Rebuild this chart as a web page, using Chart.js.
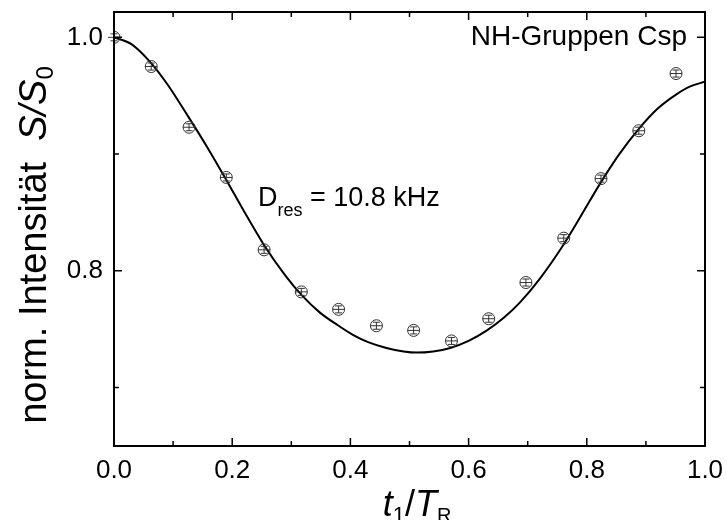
<!DOCTYPE html>
<html>
<head>
<meta charset="utf-8">
<script src="https://cdn.jsdelivr.net/npm/chart.js@4/dist/chart.umd.min.js"></script>
<style>
html,body{margin:0;padding:0;background:#fff;}
#wrap{width:727px;height:520px;}
</style>
</head>
<body>
<div id="wrap"><canvas id="c" width="727" height="520"></canvas></div>
<script>
// ---- data ----
const tValues   = [0, 0.063, 0.127, 0.190, 0.254, 0.317, 0.380, 0.444, 0.507, 0.571, 0.634, 0.697, 0.761, 0.824, 0.888, 0.951];
const intensity = [1.000, 0.975, 0.923, 0.880, 0.818, 0.782, 0.767, 0.753, 0.749, 0.740, 0.759, 0.790, 0.828, 0.879, 0.920, 0.969];
const errors    = [0.003, 0.003, 0.003, 0.003, 0.003, 0.003, 0.003, 0.003, 0.003, 0.003, 0.003, 0.003, 0.003, 0.003, 0.003, 0.003];

const fitT = [0, 0.03, 0.061, 0.09, 0.127, 0.16, 0.191, 0.22, 0.254, 0.29, 0.318, 0.349, 0.38, 0.405, 0.43, 0.461, 0.49, 0.512, 0.54, 0.569, 0.60, 0.631, 0.66, 0.687, 0.72, 0.76, 0.79, 0.824, 0.855, 0.887, 0.92, 0.951, 0.975, 1.0];
const fitS = [1.000, 0.994, 0.979, 0.960, 0.931, 0.904, 0.877, 0.851, 0.822, 0.796, 0.779, 0.764, 0.753, 0.745, 0.739, 0.734, 0.731, 0.730, 0.731, 0.734, 0.740, 0.749, 0.760, 0.773, 0.793, 0.822, 0.847, 0.876, 0.900, 0.921, 0.939, 0.951, 0.958, 0.962];

const xTickLabels = [0, 0.2, 0.4, 0.6, 0.8, 1.0];
const xMinorTicks = [0.1, 0.3, 0.5, 0.7, 0.9];
const yTickLabels = [0.8, 1.0];
const yMinorTicks = [0.7, 0.9];

const annotation = "NH-Gruppen Csp";
const fitLabel = {main: "D", sub: "res", rest: " = 10.8 kHz"};

const FONT = "'Liberation Sans', Arial, Helvetica, sans-serif";

const points = tValues.map((t, i) => ({x: t, y: intensity[i]}));
const fitPoints = fitT.map((t, i) => ({x: t, y: fitS[i]}));

const decorPlugin = {
  id: 'decor',
  afterDatasetsDraw(chart) {
    const ctx = chart.ctx;
    const xs = chart.scales.x, ys = chart.scales.y;
    ctx.save();
    ctx.strokeStyle = '#333';
    ctx.lineWidth = 1;
    points.forEach((p, i) => {
      const px = xs.getPixelForValue(p.x), py = ys.getPixelForValue(p.y);
      const top = ys.getPixelForValue(p.y + errors[i]);
      const bot = ys.getPixelForValue(p.y - errors[i]);
      ctx.beginPath();
      ctx.moveTo(px - 6, py); ctx.lineTo(px + 6, py);
      ctx.moveTo(px, top); ctx.lineTo(px, bot);
      ctx.moveTo(px - 3.5, top); ctx.lineTo(px + 3.5, top);
      ctx.moveTo(px - 3.5, bot); ctx.lineTo(px + 3.5, bot);
      ctx.stroke();
    });
    ctx.restore();
  },
  afterDraw(chart) {
    const ctx = chart.ctx;
    const a = chart.chartArea;
    const xs = chart.scales.x, ys = chart.scales.y;
    ctx.save();
    ctx.strokeStyle = '#000';
    ctx.lineWidth = 2;
    ctx.strokeRect(a.left, a.top, a.right - a.left, a.bottom - a.top);
    ctx.lineWidth = 1.5;
    ctx.beginPath();
    const tick = (vals, len) => {
      vals.forEach(v => {
        const px = xs.getPixelForValue(v);
        ctx.moveTo(px, a.bottom); ctx.lineTo(px, a.bottom - len);
        ctx.moveTo(px, a.top); ctx.lineTo(px, a.top + len);
      });
    };
    const ytick = (vals, len) => {
      vals.forEach(v => {
        const py = ys.getPixelForValue(v);
        ctx.moveTo(a.left, py); ctx.lineTo(a.left + len, py);
        ctx.moveTo(a.right, py); ctx.lineTo(a.right - len, py);
      });
    };
    tick(xTickLabels, 8); tick(xMinorTicks, 5);
    ytick(yTickLabels, 8); ytick(yMinorTicks, 5);
    ctx.stroke();

    ctx.fillStyle = '#000';
    ctx.textBaseline = 'alphabetic';
    ctx.font = '28px ' + FONT;
    ctx.textAlign = 'right';
    ctx.fillText(annotation, 687, 45);
    ctx.textAlign = 'left';
    let x = 258;
    ctx.font = '27px ' + FONT;
    ctx.fillText(fitLabel.main, x, 206);
    x += ctx.measureText(fitLabel.main).width;
    ctx.font = '18px ' + FONT;
    ctx.fillText(fitLabel.sub, x, 216);
    x += ctx.measureText(fitLabel.sub).width;
    ctx.font = '27px ' + FONT;
    ctx.fillText(fitLabel.rest, x, 206);

    const yParts = [
      {t: 'norm. Intensität  ', f: '38px ' + FONT, dy: 0},
      {t: 'S/S', f: 'italic 38px ' + FONT, dy: 0},
      {t: '0', f: '24px ' + FONT, dy: 7}
    ];
    let total = 0;
    yParts.forEach(p => { ctx.font = p.f; p.w = ctx.measureText(p.t).width; total += p.w; });
    ctx.save();
    ctx.translate(46, 245);
    ctx.rotate(-Math.PI / 2);
    let cx = -total / 2;
    yParts.forEach(p => { ctx.font = p.f; ctx.fillText(p.t, cx, p.dy); cx += p.w; });
    ctx.restore();

    const xParts = [
      {t: 't', f: 'italic 36px ' + FONT, dy: 0},
      {t: '1', f: '22px ' + FONT, dy: 6},
      {t: '/', f: '36px ' + FONT, dy: 0},
      {t: 'T', f: 'italic 36px ' + FONT, dy: 0},
      {t: 'R', f: '20px ' + FONT, dy: 6}
    ];
    total = 0;
    xParts.forEach(p => { ctx.font = p.f; p.w = ctx.measureText(p.t).width; total += p.w; });
    cx = 417 - total / 2;
    xParts.forEach(p => { ctx.font = p.f; ctx.fillText(p.t, cx, 516 + p.dy); cx += p.w; });
    ctx.restore();
  }
};

const noPad = s => { s.paddingTop = 0; s.paddingBottom = 0; s.paddingLeft = 0; s.paddingRight = 0; };

new Chart(document.getElementById('c'), {
  type: 'scatter',
  data: {
    datasets: [
      {
        label: 'Messwerte',
        data: points,
        pointStyle: 'circle',
        pointRadius: 6,
        pointBorderWidth: 1,
        pointBorderColor: '#333',
        pointBackgroundColor: 'rgba(255,255,255,0)',
        showLine: false,
        order: 0
      },
      {
        label: 'Fit',
        data: fitPoints,
        showLine: true,
        borderColor: '#000',
        borderWidth: 2,
        pointRadius: 0,
        cubicInterpolationMode: 'monotone',
        order: 1
      }
    ]
  },
  options: {
    responsive: false,
    animation: false,
    layout: {padding: {top: 12, right: 22, left: 0, bottom: 0}},
    plugins: {legend: {display: false}, tooltip: {enabled: false}},
    scales: {
      x: {
        type: 'linear', min: 0, max: 1,
        grid: {display: false, drawTicks: false},
        border: {display: false},
        ticks: {
          color: '#000', font: {family: FONT, size: 26}, padding: 9,
          callback: v => Number(v).toFixed(1)
        },
        afterBuildTicks: s => { s.ticks = xTickLabels.map(v => ({value: v})); },
        afterFit: s => { s.height = 74; noPad(s); }
      },
      y: {
        type: 'linear', min: 0.65, max: 1.0217,
        grid: {display: false, drawTicks: false},
        border: {display: false},
        ticks: {
          color: '#000', font: {family: FONT, size: 26}, padding: 11,
          callback: v => Number(v).toFixed(1)
        },
        afterBuildTicks: s => { s.ticks = yTickLabels.map(v => ({value: v})); },
        afterFit: s => { s.width = 114; noPad(s); }
      }
    }
  },
  plugins: [decorPlugin]
});
</script>
</body>
</html>
